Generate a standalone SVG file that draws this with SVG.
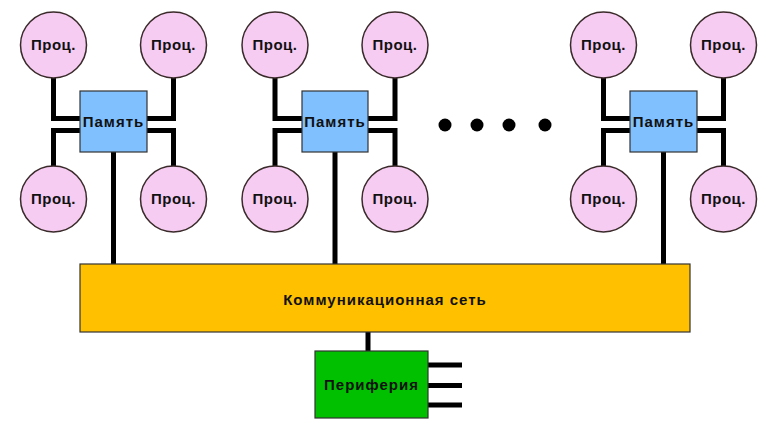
<svg xmlns="http://www.w3.org/2000/svg" width="780" height="440" viewBox="0 0 780 440">
<style>
.proc{fill:#F6CCF2;stroke:#3a2a2a;stroke-width:1.5}
.mem{fill:#80C0FF;stroke:#333;stroke-width:1.2}
.bus{fill:#FFC000;stroke:#333;stroke-width:1.2}
.per{fill:#00C000;stroke:#333;stroke-width:1.2}
.w{fill:none;stroke:#000;stroke-width:5;stroke-linejoin:miter;stroke-linecap:butt}
text{font-family:"Liberation Sans",Arial,sans-serif;font-weight:bold;font-size:15px;fill:#111;text-anchor:middle;letter-spacing:0.5px}
.wide{letter-spacing:1px}
</style>
<g id="connectors">
<polyline class="w" points="53.5,78 53.5,118.5 80,118.5"/>
<polyline class="w" points="80,130.5 53.5,130.5 53.5,166"/>
<polyline class="w" points="173.5,78 173.5,118.5 147,118.5"/>
<polyline class="w" points="147,130.5 173.5,130.5 173.5,166"/>
<line class="w" x1="113.5" y1="152" x2="113.5" y2="264"/>
<polyline class="w" points="275,78 275,118.5 302,118.5"/>
<polyline class="w" points="302,130.5 275,130.5 275,166"/>
<polyline class="w" points="395,78 395,118.5 368,118.5"/>
<polyline class="w" points="368,130.5 395,130.5 395,166"/>
<line class="w" x1="335" y1="152" x2="335" y2="264"/>
<polyline class="w" points="603.5,78 603.5,118.5 630,118.5"/>
<polyline class="w" points="630,130.5 603.5,130.5 603.5,166"/>
<polyline class="w" points="723.5,78 723.5,118.5 697,118.5"/>
<polyline class="w" points="697,130.5 723.5,130.5 723.5,166"/>
<line class="w" x1="663.5" y1="152" x2="663.5" y2="264"/>
<line class="w" x1="368" y1="332" x2="368" y2="351"/>
<line class="w" x1="428" y1="365" x2="462" y2="365"/>
<line class="w" x1="428" y1="385.5" x2="462" y2="385.5"/>
<line class="w" x1="428" y1="405" x2="462" y2="405"/>
</g>
<g id="dots">
<circle cx="445" cy="125" r="6.5" fill="#000"/>
<circle cx="477" cy="125" r="6.5" fill="#000"/>
<circle cx="509" cy="125" r="6.5" fill="#000"/>
<circle cx="545" cy="125" r="6.5" fill="#000"/>
</g>
<g id="p1a"><circle class="proc" cx="53.5" cy="45" r="33"/><text x="53.5" y="50">Проц.</text></g>
<g id="p1b"><circle class="proc" cx="173.5" cy="45" r="33"/><text x="173.5" y="50">Проц.</text></g>
<g id="p1c"><circle class="proc" cx="53.5" cy="199" r="33"/><text x="53.5" y="204">Проц.</text></g>
<g id="p1d"><circle class="proc" cx="173.5" cy="199" r="33"/><text x="173.5" y="204">Проц.</text></g>
<g id="m1"><rect class="mem" x="80" y="91" width="67" height="61"/><text x="113.5" y="127" class="wide">Память</text></g>
<g id="p2a"><circle class="proc" cx="275" cy="45" r="33"/><text x="275" y="50">Проц.</text></g>
<g id="p2b"><circle class="proc" cx="395" cy="45" r="33"/><text x="395" y="50">Проц.</text></g>
<g id="p2c"><circle class="proc" cx="275" cy="199" r="33"/><text x="275" y="204">Проц.</text></g>
<g id="p2d"><circle class="proc" cx="395" cy="199" r="33"/><text x="395" y="204">Проц.</text></g>
<g id="m2"><rect class="mem" x="302" y="91" width="66" height="61"/><text x="335" y="127" class="wide">Память</text></g>
<g id="p3a"><circle class="proc" cx="603.5" cy="45" r="33"/><text x="603.5" y="50">Проц.</text></g>
<g id="p3b"><circle class="proc" cx="723.5" cy="45" r="33"/><text x="723.5" y="50">Проц.</text></g>
<g id="p3c"><circle class="proc" cx="603.5" cy="199" r="33"/><text x="603.5" y="204">Проц.</text></g>
<g id="p3d"><circle class="proc" cx="723.5" cy="199" r="33"/><text x="723.5" y="204">Проц.</text></g>
<g id="m3"><rect class="mem" x="630" y="91" width="67" height="61"/><text x="663.5" y="127" class="wide">Память</text></g>
<g id="bus"><rect class="bus" x="80" y="264" width="610" height="68"/><text x="385" y="305" class="wide">Коммуникационная сеть</text></g>
<g id="periphery"><rect class="per" x="315" y="351" width="113" height="67"/><text x="371.5" y="390" class="wide">Периферия</text></g>
</svg>
